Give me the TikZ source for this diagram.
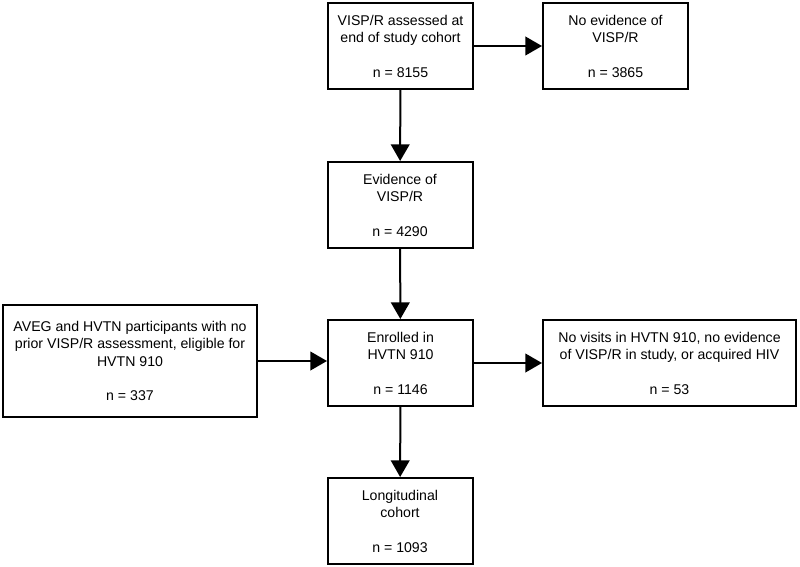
\documentclass[tikz,border=0pt]{standalone}
\usepackage{fontspec}
\setmainfont{Liberation Sans}
\usetikzlibrary{arrows.meta}
\begin{document}
\begin{tikzpicture}[x=0.75pt, y=-0.75pt, >={Triangle[length=12.5pt,width=14pt]},
    box/.style={draw, line width=1.5pt, align=center, inner sep=0pt,
      minimum width=108.75pt, minimum height=64.5pt,
      font=\fontsize{10.6pt}{13pt}\selectfont},
    arr/.style={->, line width=1.5pt}]
    \useasboundingbox (0,0) rectangle (800,567);
    \node[box] (assessed) at (400.5,46) {VISP/R assessed at\\end of study cohort\\[13pt]n = 8155};
    \node[box] (noevid) at (615.5,46) {No evidence of\\VISP/R\\[13pt]n = 3865};
    \node[box] (evid) at (400,205) {Evidence of\\VISP/R\\[13pt]n = 4290};
    \node[box] (enrolled) at (400.5,363) {Enrolled in\\HVTN 910\\[13pt]n = 1146};
    \node[box, minimum width=190.5pt, minimum height=84pt] (aveg) at (130,361)
        {AVEG and HVTN participants with no\\prior VISP/R assessment, eligible for\\HVTN 910\\[13pt]n = 337};
    \node[box, minimum width=189.75pt] (excl) at (669.5,363)
        {No visits in HVTN 910, no evidence\\of VISP/R in study, or acquired HIV\\[13pt]n = 53};
    \node[box] (longit) at (400,521) {Longitudinal\\cohort\\[13pt]n = 1093};
    \draw[arr] (assessed) -- (noevid);
    \draw[arr] (assessed) -- (evid);
    \draw[arr] (evid) -- (enrolled);
    \draw[arr] (aveg.east) -- (aveg.east -| enrolled.west);
    \draw[arr] (enrolled) -- (excl);
    \draw[arr] (enrolled) -- (longit);
\end{tikzpicture}
\end{document}
